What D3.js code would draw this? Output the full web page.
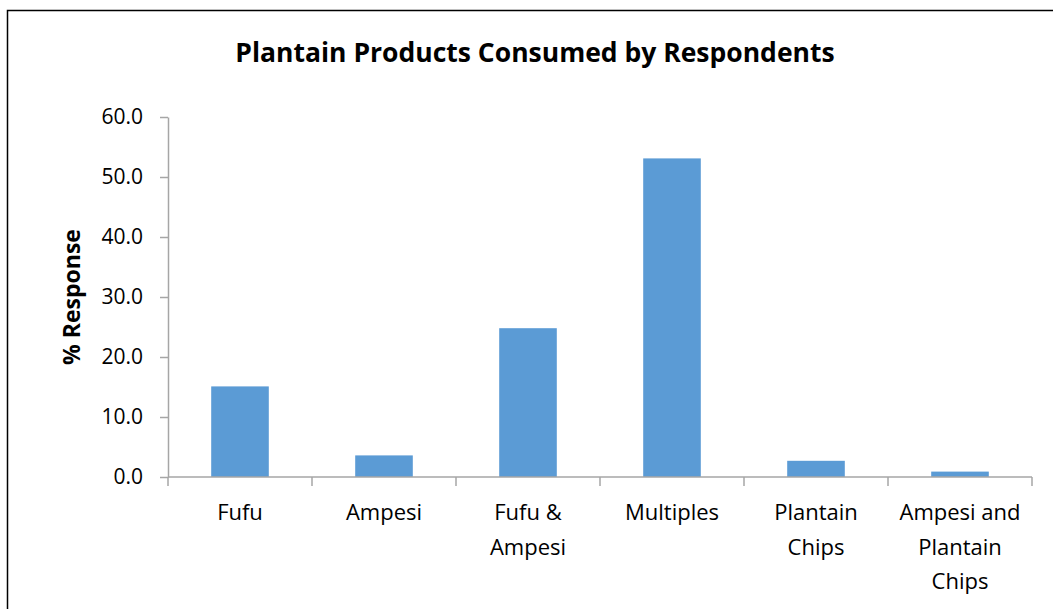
<!DOCTYPE html>
<html>
<head>
<meta charset="utf-8">
<script src="https://cdn.jsdelivr.net/npm/d3@7"></script>
<style>
  html, body { margin: 0; padding: 0; background: #ffffff; }
  svg { display: block; }
  text { font-family: "Open Sans", "DejaVu Sans", sans-serif; fill: #000; }
</style>
</head>
<body>
<svg id="chart" width="1053" height="609"></svg>
<script>
// Share of respondents consuming each plantain product (%)
const categories = ["Fufu", "Ampesi", "Fufu & Ampesi", "Multiples", "Plantain Chips", "Ampesi and Plantain Chips"];
const values = [15.1, 3.6, 24.8, 53.1, 2.7, 0.9];
// Wrapped category labels, one entry of lines per category
const categoryLines = [["Fufu"], ["Ampesi"], ["Fufu &", "Ampesi"], ["Multiples"], ["Plantain", "Chips"], ["Ampesi and", "Plantain", "Chips"]];
const yTicks = [0, 10, 20, 30, 40, 50, 60];
const titleText = "Plantain Products Consumed by Respondents";
const yLabel = "% Response";

const svg = d3.select("#chart");
const W = 1053, H = 609;
const plot = { left: 168, right: 1032, top: 117, bottom: 477 };
const axisColor = "#a6a6a6";
const barColor = "#5b9bd5";

// Chart frame
svg.append("rect")
  .attr("x", 7.5).attr("y", 10.5)
  .attr("width", W + 20).attr("height", H + 20)
  .attr("fill", "#fff")
  .attr("stroke", "#000").attr("stroke-width", 1.5);

const x = d3.scaleBand()
  .domain(categories)
  .range([plot.left, plot.right])
  .paddingInner(0.6)
  .paddingOuter(0.3);

const y = d3.scaleLinear()
  .domain([0, 60])
  .range([plot.bottom, plot.top]);

// Bars
svg.append("g")
  .selectAll("rect")
  .data(categories)
  .join("rect")
  .attr("x", d => x(d))
  .attr("width", x.bandwidth())
  .attr("y", (d, i) => y(values[i]))
  .attr("height", (d, i) => y(0) - y(values[i]))
  .attr("fill", barColor);

// Y axis
const yAxis = svg.append("g")
  .attr("transform", `translate(${plot.left},0)`)
  .call(d3.axisLeft(y).tickValues(yTicks).tickFormat(d3.format(".1f")).tickSize(8).tickSizeOuter(0).tickPadding(17));
yAxis.select(".domain").attr("stroke", axisColor).attr("stroke-width", 1.5);
yAxis.selectAll(".tick line").attr("stroke", axisColor).attr("stroke-width", 1.5);
yAxis.selectAll(".tick text")
  .style("font-size", "21px")
  .style("font-family", "\"Open Sans\", sans-serif")
  .attr("fill", "#000");

// X axis: category boundaries carry the tick marks
const step = x.step();
const boundaries = d3.range(categories.length + 1).map(i => x(categories[0]) - step * x.paddingOuter() + i * step);
const xAxisG = svg.append("g");
xAxisG.append("line")
  .attr("x1", plot.left).attr("x2", plot.right)
  .attr("y1", y(0)).attr("y2", y(0))
  .attr("stroke", axisColor).attr("stroke-width", 1.5);
xAxisG.selectAll("line.tick")
  .data(boundaries)
  .join("line")
  .attr("class", "tick")
  .attr("x1", d => d).attr("x2", d => d)
  .attr("y1", y(0)).attr("y2", y(0) + 9)
  .attr("stroke", axisColor).attr("stroke-width", 1.5);

// Category labels
const labelG = svg.append("g");
categories.forEach((c, i) => {
  const t = labelG.append("text")
    .attr("x", x(c) + x.bandwidth() / 2)
    .attr("y", 520)
    .attr("text-anchor", "middle")
    .style("font-size", "22px");
  categoryLines[i].forEach((line, j) => {
    t.append("tspan")
      .attr("x", x(c) + x.bandwidth() / 2)
      .attr("dy", j === 0 ? 0 : 34.5)
      .text(line);
  });
});

// Title
svg.append("text")
  .attr("x", 535)
  .attr("y", 62)
  .attr("text-anchor", "middle")
  .style("font-size", "26.5px")
  .style("font-weight", "bold")
  .text(titleText);

// Y axis title
svg.append("text")
  .attr("transform", `translate(80,${(plot.top + plot.bottom) / 2}) rotate(-90)`)
  .attr("text-anchor", "middle")
  .style("font-size", "23px")
  .style("font-weight", "bold")
  .text(yLabel);
</script>
</body>
</html>
